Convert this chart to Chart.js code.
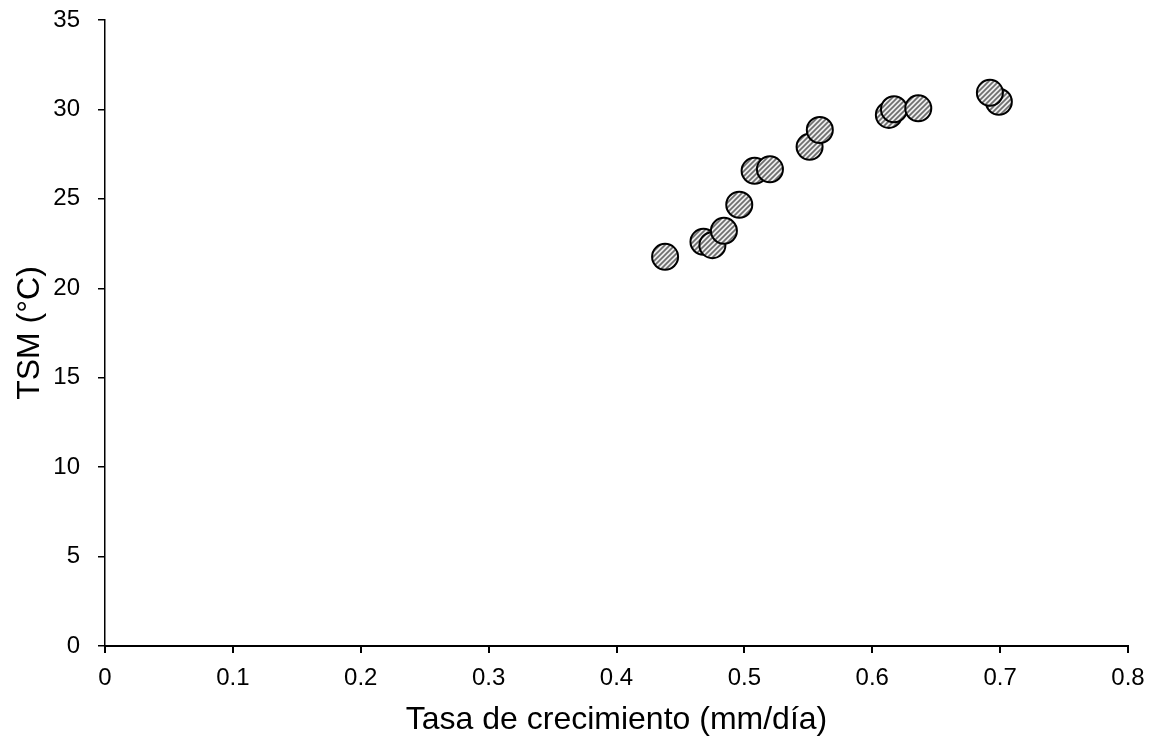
<!DOCTYPE html>
<html>
<head>
<meta charset="utf-8">
<script src="https://cdn.jsdelivr.net/npm/chart.js@4/dist/chart.umd.min.js"></script>
<style>
  html, body { margin: 0; padding: 0; background: #fff; }
  #wrap { width: 1152px; height: 737px; }
</style>
</head>
<body>
<div id="wrap"><canvas id="c" width="1152" height="737"></canvas></div>
<script>
// Growth rate (mm/day) vs sea surface temperature (°C)
const tasaCrecimiento = [0.438, 0.468, 0.475, 0.484, 0.496, 0.508, 0.520, 0.551, 0.559, 0.613, 0.617, 0.636, 0.699, 0.692];
const tsm             = [21.76, 22.60, 22.41, 23.21, 24.67, 26.57, 26.65, 27.91, 28.85, 29.69, 30.01, 30.06, 30.43, 30.93];
const xTicks = [0, 0.1, 0.2, 0.3, 0.4, 0.5, 0.6, 0.7, 0.8];
const yTicks = [0, 5, 10, 15, 20, 25, 30, 35];

// Diagonal hatch fill for the markers
function hatchPattern() {
  const s = 5;
  const t = document.createElement('canvas');
  t.width = s; t.height = s;
  const g = t.getContext('2d');
  g.fillStyle = '#ededed';
  g.fillRect(0, 0, s, s);
  g.strokeStyle = '#6e6e6e';
  g.lineWidth = 1.7;
  g.beginPath();
  g.moveTo(-1, s + 1); g.lineTo(s + 1, -1);
  g.moveTo(-1, 1); g.lineTo(1, -1);
  g.moveTo(s - 1, s + 1); g.lineTo(s + 1, s - 1);
  g.stroke();
  return document.getElementById('c').getContext('2d').createPattern(t, 'repeat');
}

// Fixed axis thickness, no automatic label-overflow padding
function fixScale(size) {
  return (s) => {
    if (s.isHorizontal()) s.height = size; else s.width = size;
    s.paddingTop = 0; s.paddingBottom = 0; s.paddingLeft = 0; s.paddingRight = 0;
  };
}

const points = tasaCrecimiento.map((x, i) => ({ x: x, y: tsm[i] }));
const FONT = "'Liberation Sans', Arial, sans-serif";

new Chart(document.getElementById('c'), {
  type: 'scatter',
  data: {
    datasets: [{
      data: points,
      pointRadius: 13,
      pointHoverRadius: 13,
      pointBorderWidth: 2,
      pointBorderColor: '#000',
      pointBackgroundColor: hatchPattern()
    }]
  },
  options: {
    responsive: false,
    animation: false,
    devicePixelRatio: 1,
    layout: { padding: { left: 0, right: 24, top: 20, bottom: 0 } },
    plugins: { legend: { display: false }, tooltip: { enabled: false } },
    scales: {
      x: {
        type: 'linear',
        min: 0, max: 0.8,
        afterBuildTicks: (s) => { s.ticks = xTicks.map(v => ({ value: v })); },
        afterFit: fixScale(91),
        border: { display: true, color: '#000', width: 2 },
        grid: { drawOnChartArea: false, drawTicks: true, tickLength: 7, color: '#000', lineWidth: 2 },
        ticks: { color: '#000', font: { family: FONT, size: 24 }, padding: 11, maxRotation: 0,
                 callback: (v) => String(v) },
        title: { display: true, text: 'Tasa de crecimiento (mm/día)', color: '#000',
                 font: { family: FONT, size: 32 }, padding: { top: 0, bottom: -2 } }
      },
      y: {
        type: 'linear',
        min: 0, max: 35,
        afterBuildTicks: (s) => { s.ticks = yTicks.map(v => ({ value: v })); },
        afterFit: fixScale(105),
        border: { display: true, color: '#000', width: 1.5 },
        grid: { drawOnChartArea: false, drawTicks: true, tickLength: 7, color: '#000', lineWidth: 1.5 },
        ticks: { color: '#000', font: { family: FONT, size: 24 }, padding: 18,
                 callback: (v) => String(v) },
        title: { display: true, text: 'TSM (°C)', color: '#000',
                 font: { family: FONT, size: 32 }, padding: { top: 11, bottom: 0 } }
      }
    }
  }
});
</script>
</body>
</html>
